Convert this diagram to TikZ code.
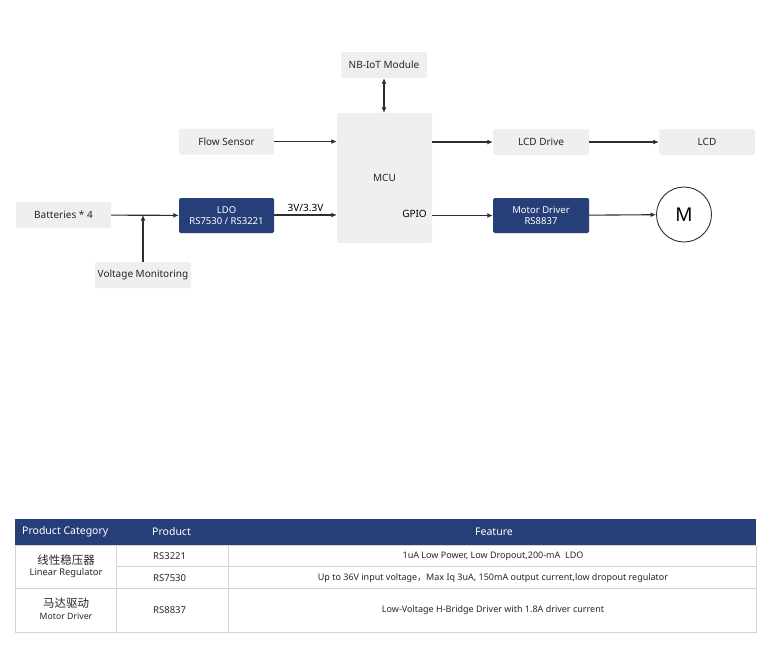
\documentclass[tikz,border=0pt]{standalone}
\usepackage{fontspec}
\setmainfont{Noto Sans}
\newfontfamily\cjk{Noto Sans CJK SC}
\usepackage{xcolor}
\usepackage{tikz}
\usetikzlibrary{arrows.meta, positioning, calc}
\definecolor{cajagris}{HTML}{EFEFEF}
\definecolor{azul}{HTML}{263F79}
\definecolor{rejilla}{HTML}{D4D4D4}
\definecolor{tinta}{HTML}{2E2E2E}
\newcommand{\filaproducto}[4]{%
  \node[celda, anchor=west, font=\fontsize{9.5}{11}\selectfont] (#1p) at (153,#2) {#3};
  \node[celda] (#1f) at (493,#2) {#4};%
}

\begin{document}
\begin{tikzpicture}[x=1pt, y=-1pt,
    caja/.style={fill=cajagris, rounded corners=1.5pt, minimum width=95pt,
      minimum height=26pt, inner sep=0pt, font=\fontsize{10}{12}\selectfont, text=black!85},
    cajaazul/.style={caja, fill=azul, minimum height=35pt, text=white,
      align=center, font=\fontsize{9.5}{10.5}\selectfont},
    flecha/.style={draw=tinta, line width=1.1pt, -{Latex[length=5.5pt, width=5pt]}},
    celda/.style={font=\fontsize{9}{11}\selectfont, text=black!85, inner sep=0pt}]
        \useasboundingbox (0,0) rectangle (783,653);
        \node[caja, minimum width=86pt] (nbiot) at (384,65) {NB-IoT Module};
        \node[caja, minimum height=130pt] (mcu) at (384.5,178) {MCU};
        \node[caja] (flujo) at (226.5,141.5) {Flow Sensor};
        \node[cajaazul] (ldo) at (226.5,215.5) {LDO\\RS7530 / RS3221};
        \node[caja] (bat) at (63.5,215) {Batteries * 4};
        \node[caja, minimum width=96pt] (volt) at (143,275) {Voltage Monitoring};
        \node[caja, minimum width=96pt] (lcddrv) at (541,142) {LCD Drive};
        \node[caja, minimum width=96pt] (lcd) at (707,142) {LCD};
        \node[cajaazul, minimum width=96pt] (motdrv) at (541,215.5) {Motor Driver\\RS8837};
        \node[circle, draw=tinta, line width=0.9pt, minimum size=55pt, inner sep=0pt,
          font=\fontsize{19}{19}\selectfont] (motor) at (684,214.5) {M};
        \node[font=\fontsize{10}{12}\selectfont, anchor=east, inner sep=0pt] (gpio) at (427,213.5) {GPIO};
        % conexiones
        \draw[flecha, {Latex[length=5.5pt, width=5pt]}-{Latex[length=5.5pt, width=5pt]}]
          (nbiot) -- (nbiot |- mcu.north);
        \draw[flecha] (flujo) -- (flujo -| mcu.west);
        \draw[flecha] (bat) -- (ldo);
        \coordinate (toma) at (volt.north |- bat.east);
        \draw[flecha] (volt) -- (toma);
        \draw[flecha] (ldo.east |- bat.east) -- node[above, font=\fontsize{10}{12}\selectfont,
          inner sep=2.5pt] (tension) {3V/3.3V} (bat.east -| mcu.west);
        \draw[flecha] (lcddrv -| mcu.east) -- (lcddrv);
        \draw[flecha] (lcddrv) -- (lcd);
        \draw[flecha] (motdrv.west -| mcu.east) -- (motdrv);
        \draw[flecha] (motdrv) -- (motor);
        % tabla
        \fill[azul] (15,518.5) rectangle (756,545);
        \draw[rejilla, line width=1pt] (15,545) rectangle (756,632);
        \draw[rejilla, line width=1pt] (116.5,566.5) -- (756,566.5);
        \draw[rejilla, line width=1pt] (15,588.5) -- (756,588.5);
        \foreach \xc in {116.5,228.5}
          \draw[rejilla, line width=1.2pt] (\xc,545) -- (\xc,632);
        \node[celda, text=white, anchor=west, font=\fontsize{10.5}{12}\selectfont] (hcat) at (22,532) {Product Category};
        \node[celda, text=white, anchor=west, font=\fontsize{10.5}{12}\selectfont] (hprod) at (152,532) {Product};
        \node[celda, text=white, font=\fontsize{10.5}{12}\selectfont] (hfeat) at (494,532) {Feature};
        \node[celda, font=\cjk\fontsize{11.5}{13}\selectfont] (cat1) at (66,560.5) {线性稳压器};
        \node[celda, font=\fontsize{9.3}{11}\selectfont] (cat1en) at (66,573.5) {Linear Regulator};
        \node[celda, font=\cjk\fontsize{11.5}{13}\selectfont] (cat2) at (66,603) {马达驱动};
        \node[celda, font=\fontsize{8.7}{10}\selectfont] (cat2en) at (66,616.5) {Motor Driver};
        \filaproducto{a}{556}{RS3221}{1uA Low Power, Low Dropout,200-mA\ \ LDO}
        \filaproducto{b}{578}{RS7530}{Up to 36V input voltage{\cjk ，}Max Iq 3uA, 150mA output current,low dropout regulator}
        \filaproducto{c}{610}{RS8837}{Low-Voltage H-Bridge Driver with 1.8A driver current}
\end{tikzpicture}
\end{document}
